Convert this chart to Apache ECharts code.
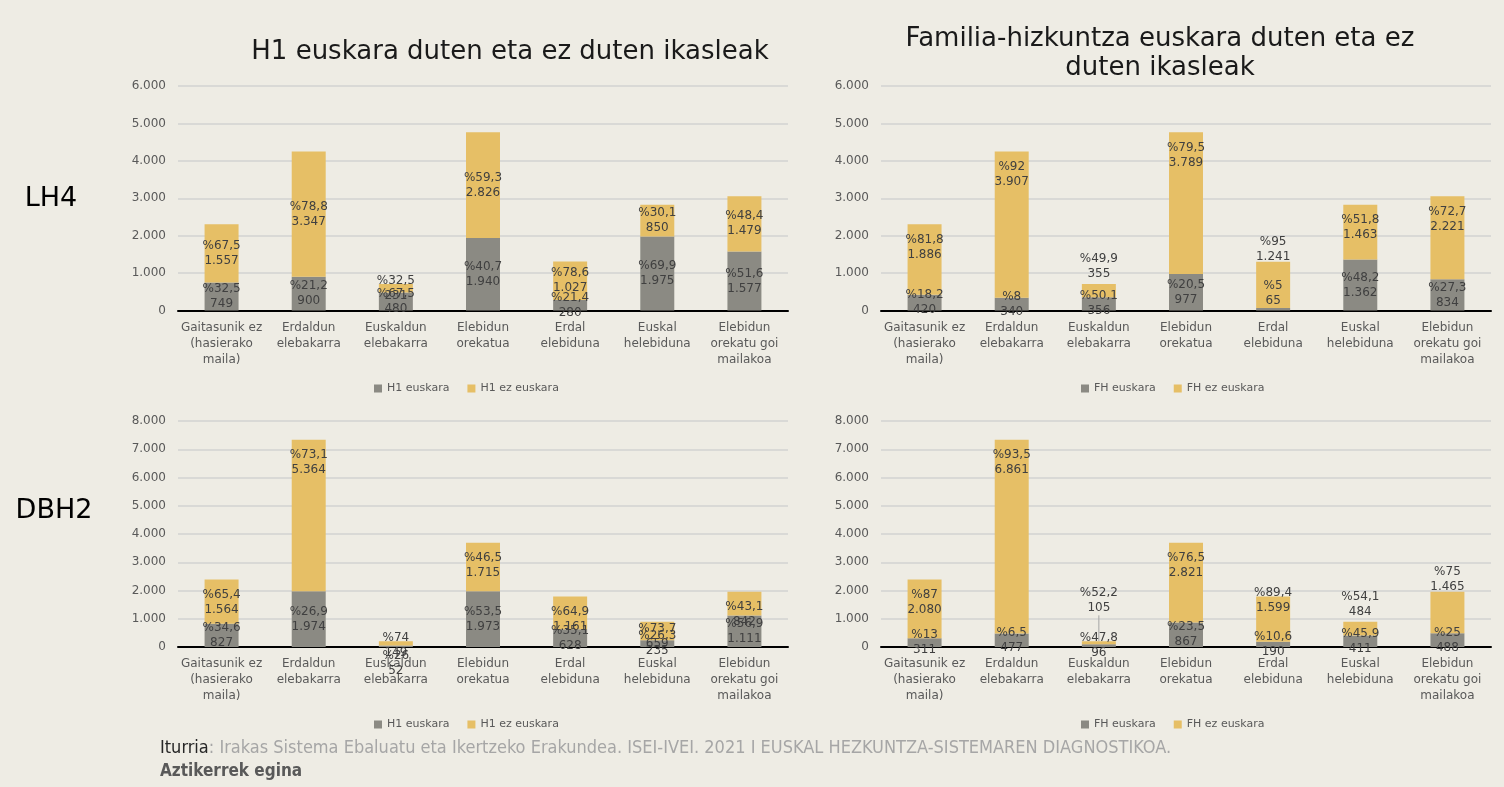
<!DOCTYPE html>
<html>
<head>
<meta charset="utf-8">
<script src="https://cdn.jsdelivr.net/npm/echarts@6/dist/echarts.min.js"></script>
<style>
  html, body { margin: 0; padding: 0; background: #eeece4; }
  #chart { width: 1504px; height: 787px; }
</style>
</head>
<body>
<div id="chart"></div>
<script>
// kategoriak (gaitasun mailak)
var categories = ['Gaitasunik ez\n(hasierako\nmaila)', 'Erdaldun\nelebakarra', 'Euskaldun\nelebakarra', 'Elebidun\norekatua', 'Erdal\nelebiduna', 'Euskal\nhelebiduna', 'Elebidun\norekatu goi\nmailakoa'];

// LH4 - H1
var lh4H1Eusk = [749, 900, 480, 1940, 280, 1975, 1577];
var lh4H1EuskPct = [32.5, 21.2, 67.5, 40.7, 21.4, 69.9, 51.6];
var lh4H1Ez = [1557, 3347, 231, 2826, 1027, 850, 1479];
var lh4H1EzPct = [67.5, 78.8, 32.5, 59.3, 78.6, 30.1, 48.4];

// LH4 - familia-hizkuntza
var lh4FhEusk = [420, 340, 356, 977, 65, 1362, 834];
var lh4FhEuskPct = [18.2, 8, 50.1, 20.5, 5, 48.2, 27.3];
var lh4FhEz = [1886, 3907, 355, 3789, 1241, 1463, 2221];
var lh4FhEzPct = [81.8, 92, 49.9, 79.5, 95, 51.8, 72.7];

// DBH2 - H1
var dbh2H1Eusk = [827, 1974, 52, 1973, 628, 235, 1111];
var dbh2H1EuskPct = [34.6, 26.9, 26, 53.5, 35.1, 26.3, 56.9];
var dbh2H1Ez = [1564, 5364, 149, 1715, 1161, 659, 842];
var dbh2H1EzPct = [65.4, 73.1, 74, 46.5, 64.9, 73.7, 43.1];

// DBH2 - familia-hizkuntza
var dbh2FhEusk = [311, 477, 96, 867, 190, 411, 488];
var dbh2FhEuskPct = [13, 6.5, 47.8, 23.5, 10.6, 45.9, 25];
var dbh2FhEz = [2080, 6861, 105, 2821, 1599, 484, 1465];
var dbh2FhEzPct = [87, 93.5, 52.2, 76.5, 89.4, 54.1, 75];

var FONT = 'DejaVu Sans';
var NARROW = "'Liberation Sans Narrow', 'DejaVu Sans Condensed', sans-serif";
var GRAY = '#8b8a83';
var YELLOW = '#e6bf66';

function fmt(v) {
    return String(v).replace(/\B(?=(\d{3})+(?!\d))/g, '.');
}
function pctTxt(p) {
    return String(p).replace('.', ',');
}

function barSeries(name, idx, values, pcts, color, baseLabel, tweaks) {
    return {
        type: 'bar',
        name: name,
        xAxisIndex: idx,
        yAxisIndex: idx,
        stack: 'st' + idx,
        barWidth: '39%',
        itemStyle: { color: color },
        emphasis: { disabled: true },
        data: values.map(function (v, i) {
            if (tweaks && tweaks[i]) {
                var d = { value: v, label: tweaks[i].label };
                if (tweaks[i].labelLine) d.labelLine = tweaks[i].labelLine;
                return d;
            }
            return v;
        }),
        label: Object.assign({
            show: true,
            color: '#404040',
            fontFamily: FONT,
            fontSize: 12,
            lineHeight: 15,
            formatter: function (p) {
                return '%' + pctTxt(pcts[p.dataIndex]) + '\n' + fmt(p.value);
            }
        }, baseLabel)
    };
}

var grids = [
    { left: 178, top: 86, width: 610, height: 224.5 },
    { left: 881, top: 86, width: 610, height: 224.5 },
    { left: 178, top: 421, width: 610, height: 226 },
    { left: 881, top: 421, width: 610, height: 226 }
];
var yMax = [6000, 6000, 8000, 8000];

var xAxes = grids.map(function (g, i) {
    return {
        type: 'category', gridIndex: i, data: categories,
        axisLine: { lineStyle: { color: '#000', width: 2 } },
        axisTick: { show: false },
        axisLabel: { color: '#595959', fontFamily: FONT, fontSize: 12, lineHeight: 16, margin: 9, interval: 0 }
    };
});
var yAxes = grids.map(function (g, i) {
    return {
        type: 'value', gridIndex: i, min: 0, max: yMax[i], interval: 1000,
        axisLine: { show: false },
        axisTick: { show: false },
        splitLine: { lineStyle: { color: '#d9d9d6', width: 2 } },
        axisLabel: { color: '#595959', fontFamily: FONT, fontSize: 12, margin: 12, formatter: fmt }
    };
});

var center = { position: 'inside' };
var inTop = { position: 'insideTop', distance: 8 };

var series = [
    barSeries('H1 euskara', 0, lh4H1Eusk, lh4H1EuskPct, GRAY, center),
    barSeries('H1 ez euskara', 0, lh4H1Ez, lh4H1EzPct, YELLOW, center),

    barSeries('FH euskara', 1, lh4FhEusk, lh4FhEuskPct, GRAY, center, {
        4: { label: { position: 'top', distance: 0 } }
    }),
    barSeries('FH ez euskara', 1, lh4FhEz, lh4FhEzPct, YELLOW, inTop, {
        2: { label: { position: 'top', distance: 3 } },
        4: { label: { position: 'top', distance: -3 } }
    }),

    barSeries('H1 euskara', 2, dbh2H1Eusk, dbh2H1EuskPct, GRAY, center, {
        2: { label: { position: 'bottom', distance: 1 } }
    }),
    barSeries('H1 ez euskara', 2, dbh2H1Ez, dbh2H1EzPct, YELLOW, inTop, {
        2: { label: { position: 'insideTop', distance: -11 } },
        5: { label: { position: 'insideTop', distance: 0 } }
    }),

    barSeries('FH euskara', 3, dbh2FhEusk, dbh2FhEuskPct, GRAY, center),
    barSeries('FH ez euskara', 3, dbh2FhEz, dbh2FhEzPct, YELLOW, inTop, {
        2: { label: { position: 'top', distance: 4 }, labelLine: { show: true, lineStyle: { color: '#a6a6a6', width: 1 } } },
        4: { label: { position: 'insideTop', distance: -11 } },
        5: { label: { position: 'top', distance: 2 } },
        6: { label: { position: 'top', distance: -3 } }
    })
];
// etiketa bat gorago, marra gidariarekin
series[7].labelLayout = function (p) {
    if (p.dataIndex === 2) return { dy: -22 };
    return {};
};

function legendAt(left, top, names) {
    return {
        left: left, top: top, data: names, icon: 'rect', itemWidth: 8, itemHeight: 8,
        itemGap: 18, selectedMode: false,
        textStyle: { color: '#595959', fontFamily: FONT, fontSize: 11 }
    };
}

function txt(x, y, s, size, color, extra) {
    return { type: 'text', x: x, y: y, style: Object.assign({
        text: s, fontSize: size, fontFamily: FONT, fill: color,
        align: 'center', verticalAlign: 'middle', textAlign: 'center', textVerticalAlign: 'middle'
    }, extra || {}) };
}

var option = {
    backgroundColor: '#eeece4',
    animation: false,
    grid: grids,
    xAxis: xAxes,
    yAxis: yAxes,
    legend: [
        legendAt(369, 378, ['H1 euskara', 'H1 ez euskara']),
        legendAt(1076, 378, ['FH euskara', 'FH ez euskara']),
        legendAt(369, 714, ['H1 euskara', 'H1 ez euskara']),
        legendAt(1076, 714, ['FH euskara', 'FH ez euskara'])
    ],
    series: series,
    graphic: [
        txt(510, 52, 'H1 euskara duten eta ez duten ikasleak', 26, '#1a1a1a'),
        txt(1160, 54, 'Familia-hizkuntza euskara duten eta ez\nduten ikasleak', 26, '#1a1a1a', { lineHeight: 29 }),
        txt(51, 199, 'LH4', 27, '#000'),
        txt(54, 511, 'DBH2', 27, '#000'),
        { type: 'text', x: 160, y: 748, style: {
            text: '{a|Iturria}{b|: Irakas Sistema Ebaluatu eta Ikertzeko Erakundea. ISEI-IVEI. 2021 I EUSKAL HEZKUNTZA-SISTEMAREN DIAGNOSTIKOA.}',
            verticalAlign: 'middle', textVerticalAlign: 'middle',
            rich: {
                a: { fill: '#262626', color: '#262626', fontSize: 18, fontFamily: NARROW },
                b: { fill: '#a6a6a6', color: '#a6a6a6', fontSize: 18, fontFamily: NARROW }
            }
        } },
        { type: 'text', x: 160, y: 772, style: { text: 'Aztikerrek egina', fontSize: 17, fontWeight: 'bold', fontFamily: NARROW, fill: '#595959', verticalAlign: 'middle', textVerticalAlign: 'middle' } }
    ]
};

var myChart = echarts.init(document.getElementById('chart'));
myChart.setOption(option);
</script>
</body>
</html>
